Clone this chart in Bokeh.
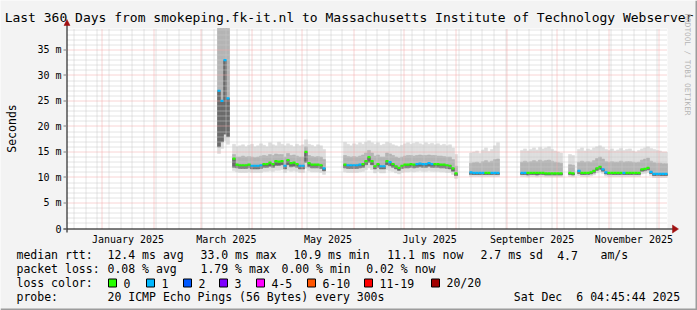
import numpy as np
import pandas as pd
from bokeh.plotting import figure
from bokeh.models import Range1d, ColumnDataSource
from bokeh.core.properties import value
from bokeh.embed import file_html
from bokeh.resources import INLINE

# ---------------------------------------------------------------- data
TITLE = "Last 360 Days from smokeping.fk-it.nl to Massachusetts Institute of Technology Webserver"
END_TIME = "2025-12-06 04:45:44"
SPAN_DAYS = 360
SLOT_DAYS = 1.8          # one value per 1.8 days (200 slots)

y_ticks = [0, 5, 10, 15, 20, 25, 30, 35]
y_tick_labels = ["0", "5 m", "10 m", "15 m", "20 m", "25 m", "30 m", "35 m"]
month_label_months = ["2025-01", "2025-03", "2025-05", "2025-07", "2025-09", "2025-11"]
month_labels = ["January 2025", "March 2025", "May 2025", "July 2025",
                "September 2025", "November 2025"]

_ = None
# median rtt (ms) per slot
median = ([_] * 50
          + [27.0, 25.0, 33.0, 25.5]
          + [_]
          + [13.7, 12.5, 12.4, 12.4, 12.4, 12.5, 12.3, 12.3, 12.3, 12.4,
             12.6, 12.6, 12.9, 12.6, 13.2, 13.1, 13.2, 12.3, 13.4, 12.8,
             12.9, 12.6, 12.3, 12.3, 15.0, 12.8, 12.5, 12.5, 12.5, 12.4, 11.8]
          + [_] * 6
          + [12.5, 12.4, 12.4, 12.4, 12.4, 12.5, 12.6, 13.2, 14.0, 13.2,
             12.2, 12.6, 12.2, 12.2, 13.2, 13.0, 12.6, 12.2, 11.9, 12.3,
             12.5, 12.5, 12.6, 12.5, 12.6, 12.7, 12.6, 12.6, 12.8, 12.6,
             12.6, 12.6, 12.5, 12.5, 12.4, 12.3, 11.8, 10.8]
          + [_] * 4
          + [11.0, 10.9, 10.9, 10.9, 10.9, 10.9, 10.9, 10.9, 10.9, 10.9]
          + [_] * 7
          + [10.9, 10.9, 10.9, 10.9, 10.9, 10.9, 10.9, 10.9, 10.8, 10.8,
             10.8, 10.8, 10.8, 10.8]
          + [_] * 2
          + [10.9, 10.8]
          + [_]
          + [11.3, 10.9, 10.9, 10.9, 11.0, 11.3, 11.8, 12.1, 11.6, 11.0,
             10.9, 10.9, 10.9, 10.9, 10.9, 10.9, 10.9, 10.9, 10.9, 10.9,
             10.9, 11.6, 11.7, 11.9, 11.1, 10.7, 10.7, 10.7, 10.7, 10.7])

# lost pings (of 20) per slot
loss = ([_] * 50
        + [1, 1, 1, 1]
        + [_]
        + [0, 0, 0, 0, 0, 0, 1, 1, 1, 1, 0, 0, 0, 0, 0, 0, 0, 1, 0, 0,
           0, 0, 1, 1, 0, 0, 0, 0, 0, 0, 1]
        + [_] * 6
        + [0, 1, 1, 1, 1, 1, 0, 0, 0, 0, 0, 0, 1, 1, 0, 1, 0, 0, 0, 0,
           0, 0, 0, 0, 1, 1, 1, 1, 1, 1, 0, 0, 0, 0, 0, 0, 0, 0]
        + [_] * 4
        + [1, 1, 1, 1, 1, 0, 0, 1, 1, 1]
        + [_] * 7
        + [1, 1, 0, 0, 0, 0, 0, 0, 0, 0, 0, 0, 0, 0]
        + [_] * 2
        + [0, 0]
        + [_]
        + [1, 0, 0, 0, 0, 0, 0, 0, 1, 1, 0, 0, 0, 0, 0, 1, 0, 0, 0, 0,
           0, 0, 0, 0, 1, 1, 1, 1, 1, 1])

# smoke: slowest ping, upper quartile, lower quartile, fastest ping (ms)
ping_max = ([_] * 50
            + [40.5, 40.5, 40.5, 40.5]
            + [_]
            + [16.5, 16.0, 16.2, 16.4, 16.0, 16.3, 16.5, 16.0, 16.2, 16.6,
               16.3, 16.0, 16.8, 16.4, 16.2, 16.9, 16.5, 16.2, 16.6, 16.3,
               16.0, 16.5, 16.2, 16.4, 17.4, 16.5, 16.3, 16.0, 16.4, 16.2, 15.5]
            + [_] * 6
            + [16.9, 16.5, 16.2, 16.6, 16.4, 16.8, 16.5, 16.9, 17.2, 16.8,
               16.5, 16.8, 16.3, 16.5, 16.9, 16.7, 16.4, 16.2, 16.0, 16.3,
               16.6, 16.8, 16.5, 16.7, 16.9, 16.6, 16.4, 16.8, 16.5, 16.7,
               16.4, 16.6, 16.3, 16.5, 16.2, 16.4, 15.8, 14.5]
            + [_] * 4
            + [14.8, 15.0, 15.2, 14.7, 15.4, 15.8, 15.1, 15.5, 16.2, 16.8]
            + [_] * 7
            + [15.3, 15.6, 15.2, 15.5, 15.8, 15.4, 15.9, 15.6, 15.8, 16.0,
               15.5, 15.2, 15.0, 14.8]
            + [_] * 2
            + [14.5, 14.3]
            + [_]
            + [15.5, 15.8, 15.2, 15.6, 15.4, 15.8, 16.0, 16.2, 15.9, 15.5,
               15.3, 15.6, 15.2, 15.4, 15.7, 15.3, 15.5, 15.6, 15.2, 15.0,
               15.3, 15.6, 15.8, 16.0, 15.7, 15.5, 15.3, 15.2, 15.0, 15.0])

ping_hi = ([_] * 50
           + [40.5, 40.5, 40.5, 40.5]
           + [_]
           + [14.5, 14.0, 14.0, 14.2, 14.0, 14.1, 14.0, 13.9, 14.0, 14.2,
              14.3, 14.2, 14.5, 14.3, 14.6, 14.5, 14.5, 14.0, 14.7, 14.3,
              14.4, 14.2, 14.0, 14.0, 16.0, 14.3, 14.1, 14.0, 14.1, 14.0, 13.5]
           + [_] * 6
           + [14.3, 14.1, 14.0, 14.1, 14.0, 14.2, 14.4, 14.8, 15.3, 14.8,
              14.2, 14.4, 14.0, 14.0, 14.8, 14.6, 14.3, 14.0, 13.8, 14.0,
              14.2, 14.3, 14.3, 14.2, 14.3, 14.4, 14.3, 14.3, 14.4, 14.3,
              14.3, 14.2, 14.2, 14.1, 14.0, 14.0, 13.5, 12.2]
           + [_] * 4
           + [12.8, 12.9, 13.0, 12.8, 13.1, 13.3, 13.0, 13.2, 13.5, 13.6]
           + [_] * 7
           + [13.0, 13.2, 13.0, 13.1, 13.3, 13.1, 13.4, 13.2, 13.3, 13.4,
              13.2, 13.0, 12.9, 12.8]
           + [_] * 2
           + [12.5, 12.4]
           + [_]
           + [13.0, 13.2, 13.0, 13.1, 13.0, 13.3, 13.7, 14.0, 13.6, 13.1,
              13.0, 13.1, 13.0, 13.0, 13.2, 13.0, 13.1, 13.1, 13.0, 12.9,
              13.0, 13.4, 13.6, 13.8, 13.2, 12.9, 12.8, 12.8, 12.7, 12.7])

ping_lo = ([_] * 50
           + [16.0, 17.0, 18.5, 18.0]
           + [_]
           + [12.0, 11.9, 11.8, 11.8, 11.8, 11.9, 11.7, 11.7, 11.7, 11.8,
              12.0, 12.0, 12.2, 12.0, 12.4, 12.4, 12.5, 11.7, 12.5, 12.1,
              12.2, 12.0, 11.7, 11.7, 13.0, 12.1, 11.9, 11.9, 11.9, 11.8, 11.3]
           + [_] * 6
           + [11.9, 11.8, 11.8, 11.8, 11.8, 11.9, 12.0, 12.5, 13.0, 12.5,
              11.7, 12.0, 11.7, 11.7, 12.5, 12.3, 12.0, 11.7, 11.4, 11.8,
              11.9, 11.9, 12.0, 11.9, 12.0, 12.1, 12.0, 12.0, 12.2, 12.0,
              12.0, 12.0, 11.9, 11.9, 11.8, 11.7, 11.2, 10.4]
           + [_] * 4
           + [10.6, 10.6, 10.6, 10.6, 10.6, 10.6, 10.6, 10.6, 10.6, 10.6]
           + [_] * 7
           + [10.6, 10.6, 10.5, 10.6, 10.6, 10.5, 10.6, 10.6, 10.5, 10.5,
              10.5, 10.5, 10.5, 10.5]
           + [_] * 2
           + [10.6, 10.5]
           + [_]
           + [10.8, 10.6, 10.6, 10.6, 10.7, 10.9, 11.4, 11.6, 11.2, 10.7,
              10.6, 10.6, 10.6, 10.6, 10.6, 10.6, 10.6, 10.6, 10.6, 10.6,
              10.6, 11.2, 11.3, 11.5, 10.8, 10.4, 10.4, 10.4, 10.4, 10.4])

ping_min = ([_] * 50
            + [14.7, 15.7, 17.2, 16.5]
            + [_]
            + [11.3, 11.1, 11.0, 11.0, 11.0, 11.1, 11.0, 11.0, 11.0, 11.0,
               11.2, 11.2, 11.3, 11.2, 11.4, 11.4, 11.5, 11.0, 11.4, 11.2,
               11.3, 11.2, 11.0, 11.0, 11.8, 11.3, 11.1, 11.1, 11.1, 11.0, 10.6]
            + [_] * 6
            + [11.1, 11.0, 11.0, 11.0, 11.0, 11.1, 11.2, 11.5, 11.9, 11.5,
               10.9, 11.2, 10.9, 10.9, 11.5, 11.3, 11.2, 10.9, 10.7, 11.0,
               11.1, 11.1, 11.2, 11.1, 11.2, 11.3, 11.2, 11.2, 11.3, 11.2,
               11.2, 11.2, 11.1, 11.1, 11.0, 11.0, 10.6, 9.8]
            + [_] * 4
            + [10.2, 10.2, 10.2, 10.2, 10.2, 10.2, 10.2, 10.2, 10.2, 10.2]
            + [_] * 7
            + [10.2, 10.2, 10.1, 10.2, 10.2, 10.1, 10.2, 10.2, 10.1, 10.1,
               10.1, 10.1, 10.1, 10.1]
            + [_] * 2
            + [10.2, 10.1]
            + [_]
            + [10.4, 10.2, 10.2, 10.2, 10.3, 10.5, 10.9, 11.1, 10.8, 10.3,
               10.2, 10.2, 10.2, 10.2, 10.2, 10.2, 10.2, 10.2, 10.2, 10.2,
               10.2, 10.7, 10.8, 11.0, 10.4, 10.0, 10.0, 10.0, 10.0, 10.0])

loss_labels = ["0", "1", "2", "3", "4-5", "6-10", "11-19", "20/20"]
loss_colors = ["#26ff00", "#00b8ff", "#0059ff", "#7e00ff", "#ff00ff",
               "#ff5500", "#ff0000", "#a10000"]
loss_upper = [0, 1, 2, 3, 5, 10, 19, 20]

rtt_stats = ["12.4 ms avg", "33.0 ms max", "10.9 ms min", "11.1 ms now",
             "2.7 ms sd", "4.7", "am/s"]
loss_stats = ["0.08 % avg", "1.79 % max", "0.00 % min", "0.02 % now"]
probe_text = "20 ICMP Echo Pings (56 Bytes) every 300s"
stamp_words = ["Sat Dec", "6 04:45:44 2025"]     # "Sat Dec  6 04:45:44 2025"

# ---------------------------------------------------------------- geometry
W, H = 697, 310
FL, FR, FT, FB = 67, 667, 28, 228      # graph canvas in pixels
YMAX = 39.2
FONT = "DejaVu Sans Mono"

end = pd.Timestamp(END_TIME)
start = end - pd.Timedelta(days=SPAN_DAYS)
x0 = start.value / 1e6
x1 = end.value / 1e6
DAY = 86400000.0


def sx(px):
    return x0 + (px - FL) / (FR - FL) * (x1 - x0)


def sy(py):
    return (FB - py) / (FB - FT) * YMAX


def px_of(xv):
    return FL + (xv - x0) / (x1 - x0) * (FR - FL)


def snap_x(xv):
    return sx(np.floor(px_of(xv)) + 0.5)


def snap_y(yv):
    py = FB - yv / YMAX * (FB - FT)
    return sy(np.floor(py) + 0.5)


# the frame covers the whole picture; the time / ms scales are extended
# so that the graph canvas lands on its rrdtool position
p = figure(width=W, height=H, output_backend="svg", toolbar_location=None,
           x_range=Range1d(sx(0), sx(W)), y_range=Range1d(sy(H), sy(0)),
           x_axis_location=None, y_axis_location=None,
           min_border=0, background_fill_color="#f3f3f3",
           border_fill_color="#f3f3f3", outline_line_color=None)
p.xgrid.visible = False
p.ygrid.visible = False

# graph canvas
p.quad(left=x0, right=x1, bottom=0, top=YMAX, fill_color="white",
       line_color=None)

# ---------------------------------------------------------------- smoke
n = len(median)
left = np.array([x0 + i * SLOT_DAYS * DAY for i in range(n)])
right = left + SLOT_DAYS * DAY


def arr(a):
    return np.clip(np.array([np.nan if v is None else v for v in a],
                            dtype=float), 0, YMAX)


med = arr(median)
ok = ~np.isnan(med)
smoke = ColumnDataSource(dict(l=left[ok], r=right[ok],
                              mx=arr(ping_max)[ok], hi=arr(ping_hi)[ok],
                              lo=arr(ping_lo)[ok], mn=arr(ping_min)[ok],
                              md=med[ok]))
for b, t, c in [("mn", "mx", "#dedede"), ("lo", "hi", "#b4b4b4"),
                ("lo", "md", "#6a6a6a")]:
    p.quad(left="l", right="r", bottom=b, top=t, source=smoke,
           fill_color=c, line_color=c, line_width=0.6)

# ---------------------------------------------------------------- grid
months = pd.date_range(start.normalize(), end, freq="MS")
months = [m for m in months if m > start]
weeks = pd.date_range(start.normalize(), end, freq="W-SUN")
weeks = [w for w in weeks if w > start and w.day != 1]
mx = [snap_x(m.value / 1e6) for m in months]
wx = [snap_x(w.value / 1e6) for w in weeks]
minor_y = [snap_y(v) for v in range(1, int(YMAX) + 1) if v % 5]
major_y = [snap_y(v) for v in y_ticks if v > 0]
GRID = "#c8c8c8"
MGRID = "#f2a8a8"
p.segment(x0=wx, x1=wx, y0=0, y1=YMAX, line_color=GRID, line_width=1,
          line_dash="1 1")
p.segment(x0=x0, x1=x1, y0=minor_y, y1=minor_y, line_color=GRID,
          line_width=1, line_dash="1 1")
p.segment(x0=mx, x1=mx, y0=0, y1=YMAX, line_color=MGRID, line_width=1,
          line_dash="1 1")
p.segment(x0=x0, x1=x1, y0=major_y, y1=major_y, line_color=MGRID,
          line_width=1, line_dash="1 1")

# ---------------------------------------------------------------- median


def loss_color(k):
    for c, up in zip(loss_colors, loss_upper):
        if k <= up:
            return c
    return loss_colors[-1]


ok_i = [i for i in range(n) if median[i] is not None]
p.segment(x0=left[ok_i], x1=right[ok_i],
          y0=med[ok_i], y1=med[ok_i],
          line_color=[loss_color(loss[i]) for i in ok_i], line_width=2.2)

# ---------------------------------------------------------------- axes
# axis lines with arrow heads
p.segment(x0=sx(63), x1=sx(673), y0=sy(FB + 0.5), y1=sy(FB + 0.5),
          line_color="black", line_width=1)
p.segment(x0=sx(FL - 0.5), x1=sx(FL - 0.5), y0=sy(232), y1=sy(24),
          line_color="black", line_width=1)
p.patches(xs=[[sx(672), sx(678), sx(672)], [sx(63.5), sx(66.5), sx(69.5)]],
          ys=[[sy(224.5), sy(228.5), sy(232.5)], [sy(25), sy(19), sy(25)]],
          fill_color="#a01010", line_color="#a01010", line_width=0.5)
# y tick marks
p.segment(x0=sx(63), x1=sx(FL), y0=[snap_y(v) for v in y_ticks],
          y1=[snap_y(v) for v in y_ticks], line_color="#808080", line_width=1)

TXT = dict(text_font=value(FONT), text_baseline="middle", text_color="black")
p.text(x=[sx(61)] * len(y_ticks), y=y_ticks, text=y_tick_labels,
       text_align="right", text_font_size="10px", **TXT)

lab_ticks = []
for m in month_label_months:
    ms = pd.Timestamp(m + "-01")
    me = ms + pd.offsets.MonthBegin(1)
    lab_ticks.append((ms + (me - ms) / 2).value / 1e6)
p.text(x=lab_ticks, y=[sy(238.5)] * len(lab_ticks), text=month_labels,
       text_align="center", text_font_size="10px", **TXT)

# ---------------------------------------------------------------- texts


def label(px, py, text, size="11.5px", align="left", color="black", angle=0.0):
    p.text(x=[sx(px)], y=[sy(py)], text=[text], text_font=value(FONT),
           text_font_size=size, text_align=align, text_baseline="middle",
           text_color=color, angle=angle)


label(348.5, 17, TITLE, size="13px", align="center")
label(11, 128, "Seconds", angle=np.pi / 2, align="center")
label(687, 64, "RRDTOOL / TOBI OETIKER", size="7.7px", align="center",
      color="#b4b4b4", angle=-np.pi / 2)

ROWS = [254.5, 268.5, 282.5, 296.5]
label(16, ROWS[0], "median rtt:")
for xp, t in zip([107, 200, 293, 386.7, 480, 556.7, 600], rtt_stats):
    label(xp, ROWS[0], t)
label(16, ROWS[1], "packet loss:")
for xp, t in zip([107, 200, 281, 365.7], loss_stats):
    label(xp, ROWS[1], t)
label(16, ROWS[2], "loss color:")
sw = [108, 146, 183, 219, 256, 307, 364, 431]
p.quad(left=[sx(v) for v in sw], right=[sx(v + 8) for v in sw],
       bottom=sy(ROWS[2] + 4), top=sy(ROWS[2] - 4), fill_color=loss_colors,
       line_color="black", line_width=1)
for xp, t in zip(sw, loss_labels):
    label(xp + 15, ROWS[2], t)
label(16, ROWS[3], "probe:")
label(107, ROWS[3], probe_text)
label(513.3, ROWS[3], stamp_words[0])
label(513.3 + 9 * 6.95, ROWS[3], stamp_words[1])

# picture frame
p.quad(left=[sx(0), sx(W - 2)], right=[sx(W), sx(W)],
       bottom=[sy(H), sy(H)], top=[sy(H - 2), sy(0)],
       fill_color="#9c9c9c", line_color=None)

open("out.html", "w").write(file_html(p, INLINE))
